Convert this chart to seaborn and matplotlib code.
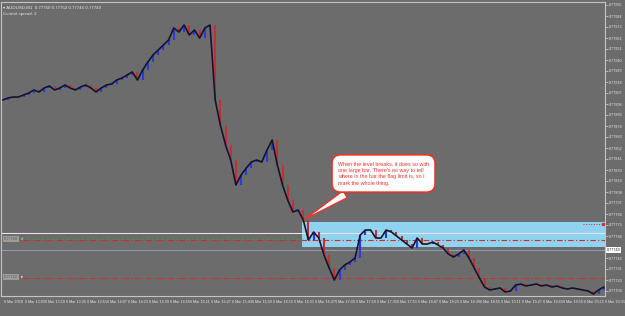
import numpy as np
import pandas as pd
import matplotlib
matplotlib.use("Agg")
import matplotlib.pyplot as plt
import matplotlib.transforms as mtransforms
import seaborn as sns

# ---------------- data ----------------
minutes = [0, 4, 8, 12, 16, 20, 24, 28, 32, 36,
           40, 44, 48, 52, 56, 60, 64, 68, 72, 76,
           80, 84, 88, 92, 96, 100, 104, 108, 112, 116,
           120, 124, 128, 132, 136, 140, 144, 148, 152, 156,
           160, 164, 168, 172, 176, 180, 184, 188, 192, 196,
           200, 204, 208, 212, 216, 220, 224, 228, 232, 236,
           240, 244, 248, 252, 256, 260, 264, 268, 272, 276,
           280, 284, 288, 292, 296, 300, 304, 308, 312, 316,
           320, 324, 328, 332, 336, 340, 344, 348, 352, 356,
           360, 364, 368, 372, 376, 380, 384, 388, 392, 396,
           400, 404, 408, 412, 416, 420, 424, 428, 432, 436,
           440, 444, 448, 452, 456, 460, 464]

close = [0.77900, 0.77902, 0.77903, 0.77903, 0.77905, 0.77907, 0.77910, 0.77908, 0.77912, 0.77914,
         0.77910, 0.77912, 0.77915, 0.77912, 0.77910, 0.77913, 0.77915, 0.77912, 0.77908, 0.77912,
         0.77915, 0.77916, 0.77920, 0.77922, 0.77925, 0.77928, 0.77920, 0.77930, 0.77938, 0.77945,
         0.77950, 0.77955, 0.77960, 0.77972, 0.77968, 0.77975, 0.77965, 0.77970, 0.77962, 0.77972,
         0.77975, 0.77900, 0.77875, 0.77855, 0.77840, 0.77815, 0.77825, 0.77832, 0.77838, 0.77840,
         0.77838, 0.77850, 0.77860, 0.77835, 0.77815, 0.77800, 0.77788, 0.77790, 0.77780, 0.77760,
         0.77768, 0.77762, 0.77745, 0.77732, 0.77720, 0.77730, 0.77735, 0.77738, 0.77742, 0.77765,
         0.77770, 0.77770, 0.77762, 0.77762, 0.77770, 0.77768, 0.77764, 0.77760, 0.77756, 0.77752,
         0.77762, 0.77756, 0.77756, 0.77758, 0.77755, 0.77752, 0.77746, 0.77743, 0.77746, 0.77750,
         0.77742, 0.77732, 0.77722, 0.77713, 0.77710, 0.77711, 0.77712, 0.77708, 0.77709, 0.77715,
         0.77716, 0.77714, 0.77715, 0.77716, 0.77714, 0.77715, 0.77713, 0.77714, 0.77712, 0.77711,
         0.77712, 0.77711, 0.77710, 0.77709, 0.77706, 0.77710, 0.77713]

x_tick_minutes = [0, 16, 32, 48, 64, 80, 96, 112, 128, 144,
                  160, 176, 192, 208, 224, 240, 256, 272, 288, 304,
                  320, 336, 352, 368, 384, 400, 416, 432, 448, 464]
x_tick_labels = ["6 Mar 2018", "6 Mar 13:03", "6 Mar 13:19", "6 Mar 13:35", "6 Mar 13:51",
                 "6 Mar 14:07", "6 Mar 14:23", "6 Mar 14:39", "6 Mar 14:55", "6 Mar 15:11",
                 "6 Mar 15:27", "6 Mar 15:43", "6 Mar 15:59", "6 Mar 16:15", "6 Mar 16:31",
                 "6 Mar 16:47", "6 Mar 17:03", "6 Mar 17:19", "6 Mar 17:35", "6 Mar 17:51",
                 "6 Mar 18:07", "6 Mar 18:23", "6 Mar 18:39", "6 Mar 18:55", "6 Mar 19:11",
                 "6 Mar 19:27", "6 Mar 19:43", "6 Mar 19:59", "6 Mar 20:15", "6 Mar 20:31"]

y_tick_values = [0.77995, 0.77984, 0.77973, 0.77962, 0.77951, 0.77940, 0.77929, 0.77918, 0.77907,
                 0.77896, 0.77885, 0.77874, 0.77863, 0.77852, 0.77841, 0.77830, 0.77819, 0.77808,
                 0.77797, 0.77786, 0.77775, 0.77764, 0.77742, 0.77731, 0.77720, 0.77709]

band_start = 231
band_low, band_high = 0.77753, 0.77778
level_white = 0.77767
level_red_1 = 0.77760
level_red_2 = 0.77722
level_price = 0.77750
current_price = "0.77749"

header_1 = "\u25be AUDUSD,M1  0.77750 0.77752 0.77746 0.77749"
header_2 = "Current spread: 2"
callout_text = ("When the level breaks, it does so with\n"
                "one large bar. There's no way to tell\n"
                "where in the bar the flag limit is, so I\n"
                "mark the whole thing.")

# ---------------- style ----------------
sns.set_style("white")
plt.rcParams["font.family"] = ["Liberation Sans", "DejaVu Sans"]
BG = "#6c6c6c"
TXT = "#e6e6e6"

fig = plt.figure(figsize=(6.25, 3.16), dpi=100, facecolor=BG)
ax = fig.add_axes([1.5 / 625, 20 / 316, 603.5 / 625, 294 / 316])
ax.set_facecolor(BG)

df = pd.DataFrame({"minute": minutes, "close": close})

# light-blue level band
ax.fill_between([band_start, 470], band_low, band_high, color="#8fd3f0", zorder=1, lw=0)

# horizontal levels
ax.axhline(level_white, color="#e4e4e4", lw=0.8, zorder=2)
ax.axhline(level_red_1, color="#d42a2a", lw=0.8, ls=(0, (5, 2, 1, 2)), zorder=2)
ax.plot([14, band_start], [level_red_1 + 0.000008, level_red_1 + 0.000008],
        color="#3aa33a", lw=0.6, ls=(0, (3, 3)), zorder=2)
ax.axhline(level_red_2, color="#d42a2a", lw=0.8, ls=(0, (5, 2, 1, 2)), zorder=2)
ax.axhline(level_price, color="#8c9cb4", lw=0.8, zorder=2)
ax.plot([448, 463], [0.77776, 0.77776], color="#d42a2a", lw=0.7, ls=":", zorder=3)
ax.plot([463.5], [0.77776], marker="s", ms=2, color="#e03030", zorder=3)

# price trace
for i in range(1, len(df)):
    up = df.close[i] >= df.close[i - 1]
    ax.vlines(df.minute[i], df.close[i - 1], df.close[i],
              color="#2a3ae0" if up else "#c43030", lw=1.5, zorder=3)
sns.lineplot(data=df, x="minute", y="close", ax=ax, color="#14142e", lw=1.2, zorder=4)

ax.set_xlim(-1, 465)
ax.set_ylim(0.77704, 0.77998)

# axes / ticks
for s in ax.spines.values():
    s.set_color("#c4c4c4")
    s.set_linewidth(0.8)
ax.yaxis.tick_right()
ax.set_yticks(y_tick_values)
ax.set_yticklabels([f"{v:.5f}" for v in y_tick_values])
ax.set_xticks(x_tick_minutes)
ax.set_xticklabels(x_tick_labels, ha="left")
ax.tick_params(axis="both", colors="#d0d0d0", labelcolor=TXT, labelsize=2.7,
               length=2, width=0.5, pad=1)
off = mtransforms.ScaledTranslation(1.0 / 100, 0, fig.dpi_scale_trans)
for lbl in ax.get_xticklabels():
    lbl.set_transform(lbl.get_transform() + off)
ax.set_xlabel("")
ax.set_ylabel("")

# current price box on the right axis
ax.text(1.003, level_price, current_price, transform=ax.get_yaxis_transform(),
        fontsize=2.7, color="#202020", va="center", ha="left", clip_on=False,
        bbox=dict(boxstyle="square,pad=0.2", fc="white", ec="none"))

# left level labels
for lvl, tag in [(level_red_1, "sl"), (level_red_2, "tp")]:
    ax.text(1, lvl + 0.00001, f"{lvl:.5f}", fontsize=2.8, color="#5a5a5a", va="center", ha="left",
            bbox=dict(boxstyle="square,pad=0.2", fc="#9c9c9c", ec="none"), zorder=5)
    ax.text(14, lvl + 0.00001, tag, fontsize=2.8, color="#dddddd", va="center", ha="left", zorder=5)

# header
ax.text(0.003, 0.987, header_1, transform=ax.transAxes, fontsize=3.2, color=TXT,
        va="top", ha="left")
ax.text(0.003, 0.965, header_2, transform=ax.transAxes, fontsize=3.2, color=TXT,
        va="top", ha="left")

# callout
ax.annotate(callout_text, xy=(band_start, 0.77779), xytext=(294, 0.778265),
            textcoords="data", ha="center", va="center", multialignment="left",
            fontsize=3.9, linespacing=1.45, color="#e8342a", zorder=6,
            bbox=dict(boxstyle="round,pad=1.1,rounding_size=1.6", fc="white",
                      ec="#e8342a", lw=1.2),
            arrowprops=dict(arrowstyle="wedge,tail_width=1.5,shrink_factor=0.5",
                            fc="white", ec="#e8342a", lw=1.0, relpos=(0.22, 0.0)))

fig.savefig("out.png", dpi=100, facecolor=BG)
